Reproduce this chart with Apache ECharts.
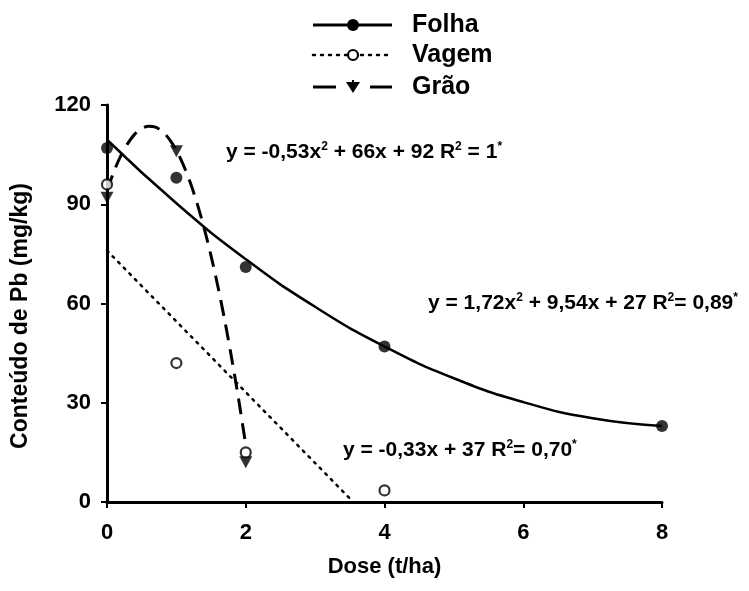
<!DOCTYPE html>
<html>
<head>
<meta charset="utf-8">
<script src="https://cdn.jsdelivr.net/npm/echarts@6/dist/echarts.min.js"></script>
<style>
  html, body { margin: 0; padding: 0; background: #fff; }
  #chart { width: 749px; height: 591px; }
</style>
</head>
<body>
<div id="chart"></div>
<script>
// Observed lead content (mg/kg) per dose (t/ha)
const folhaDose = [0, 1, 2, 4, 8];
const folhaPb   = [107, 98, 71, 47, 23];
const vagemDose = [0, 1, 2, 4];
const vagemPb   = [96, 42, 15, 3.5];
const graoDose  = [0, 1, 2];
const graoPb    = [92, 106, 12];

// Fitted trend curves, sampled along dose
const folhaFitDose = [0, 1, 2, 3, 4, 5, 6, 7, 8];
const folhaFitPb   = [109.5, 90.3, 73.4, 59.0, 47.0, 37.4, 30.2, 25.3, 23.0];
const vagemFitDose = [0, 3.55];
const vagemFitPb   = [76, 0];
const graoFitDose  = [0, 0.1, 0.2, 0.3, 0.4, 0.5, 0.6, 0.7, 0.8, 0.9, 1.0,
                      1.1, 1.2, 1.3, 1.4, 1.5, 1.6, 1.7, 1.8, 1.9, 2.0];
const graoFitPb    = [94.1, 99.9, 104.7, 108.4, 111.2, 112.9, 113.6, 113.3, 112.0, 109.6, 106.3,
                      101.9, 96.6, 90.2, 82.8, 74.4, 65.0, 54.6, 43.1, 30.7, 17.2];

// Axis ticks
const doseTicks = { min: 0, max: 8, interval: 2 };
const pbTicks   = { min: 0, max: 120, interval: 30 };

const FONT = "'Liberation Sans', Arial, sans-serif";
const pairs = (xs, ys) => xs.map((x, i) => [x, ys[i]]);

const chart = echarts.init(document.getElementById('chart'), null, { renderer: 'canvas' });

const axisCommon = {
  axisLine: { show: true, lineStyle: { color: '#000', width: 3 } },
  axisTick: { show: true, inside: false, length: 6, lineStyle: { color: '#000', width: 2 } },
  splitLine: { show: false },
  axisLabel: { color: '#000', fontFamily: FONT, fontWeight: 'bold', fontSize: 22 }
};

// Regression equations: normal run plus raised superscripts
const eqRich = {
  n: { fontFamily: FONT, fontWeight: 'bold', fontSize: 21, color: '#000' },
  s: { fontFamily: FONT, fontWeight: 'bold', fontSize: 12, color: '#000', verticalAlign: 'top', padding: [0, 0, 10, 0] }
};

function eqText(left, midY, txt) {
  return {
    type: 'text', x: left, y: midY, z: 50,
    style: { text: txt, rich: eqRich, font: 'bold 21px ' + FONT, fill: '#000', verticalAlign: 'middle' }
  };
}

function legendRow(y, label, lineDash, markerType) {
  const children = [];
  if (markerType === 'triangle') {
    children.push({ type: 'line', shape: { x1: 313, y1: y, x2: 336, y2: y }, style: { stroke: '#000', lineWidth: 3 } });
    children.push({ type: 'line', shape: { x1: 370, y1: y, x2: 392, y2: y }, style: { stroke: '#000', lineWidth: 3 } });
    children.push({ type: 'polygon', shape: { points: [[346, y - 5], [360, y - 5], [353, y + 6]] }, style: { fill: '#000' } });
    children.push({ type: 'line', shape: { x1: 353, y1: y - 7, x2: 353, y2: y }, style: { stroke: '#000', lineWidth: 2 } });
  } else {
    children.push({ type: 'line', shape: { x1: 313, y1: y, x2: 392, y2: y },
      style: { stroke: '#000', lineWidth: lineDash ? 2.5 : 3, lineDash: lineDash || null, lineCap: lineDash ? 'round' : 'butt' } });
    if (markerType === 'filled') {
      children.push({ type: 'circle', shape: { cx: 353, cy: y, r: 6 }, style: { fill: '#000' } });
    } else {
      children.push({ type: 'circle', shape: { cx: 353, cy: y, r: 5 }, style: { fill: '#fff', stroke: '#000', lineWidth: 2.2 } });
    }
  }
  children.push({ type: 'text', x: 412, y: y, style: { text: label, font: 'bold 25px ' + FONT, fill: '#000', verticalAlign: 'middle' } });
  return { type: 'group', children: children };
}

const option = {
  animation: false,
  backgroundColor: '#fff',
  grid: { left: 107, right: 87, top: 105, bottom: 89, containLabel: false },
  xAxis: Object.assign({}, axisCommon, {
    type: 'value', min: doseTicks.min, max: doseTicks.max, interval: doseTicks.interval,
    name: 'Dose (t/ha)', nameLocation: 'middle', nameGap: 54,
    nameTextStyle: { color: '#000', fontFamily: FONT, fontWeight: 'bold', fontSize: 22 },
    axisLabel: Object.assign({}, axisCommon.axisLabel, { margin: 20 })
  }),
  yAxis: Object.assign({}, axisCommon, {
    type: 'value', min: pbTicks.min, max: pbTicks.max, interval: pbTicks.interval,
    axisLabel: Object.assign({}, axisCommon.axisLabel, { margin: 16 })
  }),
  series: [
    { name: 'Folha (ajuste)', type: 'line', data: pairs(folhaFitDose, folhaFitPb), smooth: true,
      showSymbol: false, lineStyle: { color: '#000', width: 2.5 }, z: 2 },
    { name: 'Vagem (ajuste)', type: 'line', data: pairs(vagemFitDose, vagemFitPb),
      showSymbol: false, lineStyle: { color: '#000', width: 2.5, type: [2, 6], cap: 'round' }, z: 2 },
    { name: 'Grão (ajuste)', type: 'line', data: pairs(graoFitDose, graoFitPb), smooth: 0.3,
      showSymbol: false, lineStyle: { color: '#000', width: 3, type: [16, 9] }, z: 2 },
    { name: 'Folha', type: 'scatter', data: pairs(folhaDose, folhaPb), symbol: 'circle', symbolSize: 12,
      itemStyle: { color: '#000' }, z: 5 },
    { name: 'Vagem', type: 'scatter', data: pairs(vagemDose, vagemPb), symbol: 'circle', symbolSize: 10,
      itemStyle: { color: '#fff', borderColor: '#000', borderWidth: 2.2 }, z: 6 },
    { name: 'Grão', type: 'scatter', data: pairs(graoDose, graoPb), symbol: 'triangle', symbolRotate: 180,
      symbolSize: [13, 12], itemStyle: { color: '#000' }, z: 5 }
  ],
  graphic: [
    legendRow(25, 'Folha', null, 'filled'),
    legendRow(55, 'Vagem', [2, 6], 'open'),
    legendRow(87, 'Grão', null, 'triangle'),
    eqText(226, 152, '{n|y = -0,53x}{s|2}{n| + 66x + 92 R}{s|2}{n| = 1}{s|*}'),
    eqText(428, 303, '{n|y = 1,72x}{s|2}{n| + 9,54x + 27 R}{s|2}{n|= 0,89}{s|*}'),
    eqText(343, 450, '{n|y = -0,33x + 37 R}{s|2}{n|= 0,70}{s|*}'),
    {
      type: 'text', x: 21, y: 316, rotation: Math.PI / 2,
      style: { text: 'Conteúdo de Pb (mg/kg)', font: 'bold 23px ' + FONT, fill: '#000', align: 'center', verticalAlign: 'middle' }
    }
  ]
};

chart.setOption(option);
</script>
</body>
</html>
